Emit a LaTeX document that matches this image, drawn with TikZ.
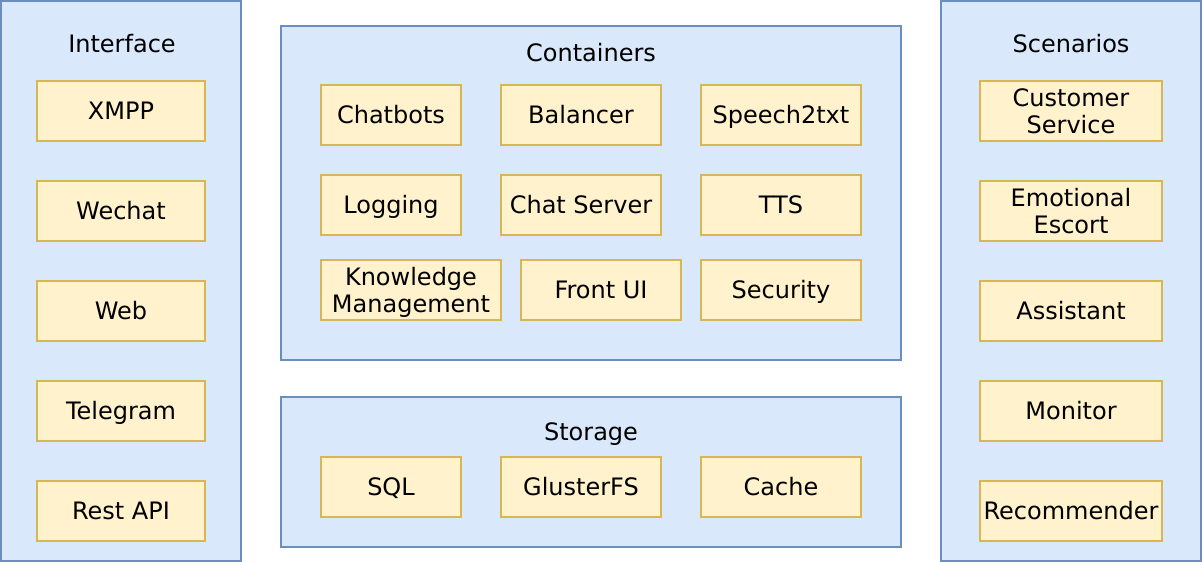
\documentclass[tikz,border=0pt]{standalone}
\usepackage{fontspec}
\setmainfont{DejaVu Sans}
\definecolor{grpfill}{HTML}{DAE8FC}
\definecolor{grpline}{HTML}{6C8EBF}
\definecolor{itemfill}{HTML}{FFF2CC}
\definecolor{itemline}{HTML}{D6B656}
\begin{document}
\begin{tikzpicture}[x=1pt,y=-1pt,
  txt/.style={font=\fontsize{24}{27}\selectfont},
  grp/.style={draw=grpline, fill=grpfill, line width=1.3pt, inner sep=0pt, rectangle},
  item/.style={txt, draw=itemline, fill=itemfill, line width=1.3pt, inner sep=0pt,
    minimum height=60pt, text height=17.4pt, text depth=0pt},
  item2/.style={item, align=center, text height=44.4pt, text depth=0pt},
  title/.style={txt, anchor=base, inner sep=0pt}]
\useasboundingbox (0,0) rectangle (1202,562);
% groups
\node[grp, minimum width=240pt, minimum height=560pt] (interface) at (121,281) {};
\node[grp, minimum width=620pt, minimum height=334pt] (containers) at (591,193) {};
\node[grp, minimum width=620pt, minimum height=150pt] (storage) at (591,472) {};
\node[grp, minimum width=260pt, minimum height=560pt] (scenarios) at (1071,281) {};
\node[title] (tInterface) at (122,52.5) {Interface};
\node[title] (tContainers) at (591,61) {Containers};
\node[title] (tStorage) at (591,440) {Storage};
\node[title] (tScenarios) at (1071,52.5) {Scenarios};
% interface
\node[item, minimum width=168pt] (xmpp) at (121,111) {XMPP};
\node[item, minimum width=168pt] (wechat) at (121,211) {Wechat};
\node[item, minimum width=168pt] (web) at (121,311) {Web};
\node[item, minimum width=168pt] (telegram) at (121,411) {Telegram};
\node[item, minimum width=168pt] (rest) at (121,511) {Rest API};
% containers
\node[item, minimum width=140pt] (chatbots) at (391,115) {Chatbots};
\node[item, minimum width=160pt] (balancer) at (581,115) {Balancer};
\node[item, minimum width=160pt] (speech) at (781,115) {Speech2txt};
\node[item, minimum width=140pt] (logging) at (391,205) {Logging};
\node[item, minimum width=160pt] (chatserver) at (581,205) {Chat Server};
\node[item, minimum width=160pt] (tts) at (781,205) {TTS};
\node[item2, minimum width=180pt] (km) at (411,290) {Knowledge\\Management};
\node[item, minimum width=160pt] (frontui) at (601,290) {Front UI};
\node[item, minimum width=160pt] (security) at (781,290) {Security};
% storage
\node[item, minimum width=140pt] (sql) at (391,487) {SQL};
\node[item, minimum width=160pt] (gluster) at (581,487) {GlusterFS};
\node[item, minimum width=160pt] (cache) at (781,487) {Cache};
% scenarios
\node[item2, minimum width=182pt] (customer) at (1071,111) {Customer\\Service};
\node[item2, minimum width=182pt] (emotional) at (1071,211) {Emotional\\Escort};
\node[item, minimum width=182pt] (assistant) at (1071,311) {Assistant};
\node[item, minimum width=182pt] (monitor) at (1071,411) {Monitor};
\node[item, minimum width=182pt] (recommender) at (1071,511) {Recommender};
\end{tikzpicture}
\end{document}
